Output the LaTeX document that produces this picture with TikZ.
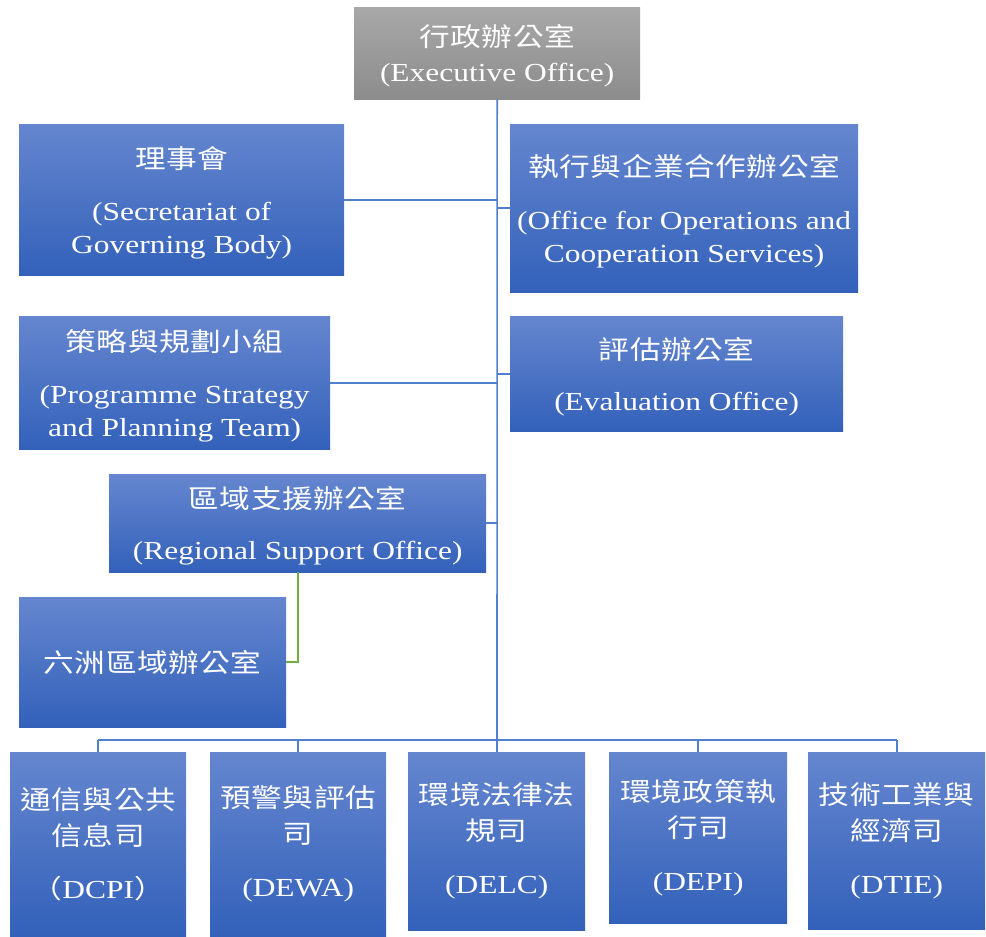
\documentclass[tikz,border=0pt]{standalone}
\usepackage{fontspec}
\setmainfont{Liberation Serif}[FakeStretch=1.21]
\newfontfamily\cjk{Noto Sans CJK TC}[FakeStretch=1.18]
\newcommand{\zh}[1]{{\cjk\addfontfeature{LetterSpace=2}#1}}
\definecolor{boxtop}{HTML}{6586CF}
\definecolor{boxbot}{HTML}{3361BA}
\definecolor{greytop}{HTML}{A8A8A8}
\definecolor{greybot}{HTML}{8C8C8C}
\definecolor{linkblue}{HTML}{5080CB}
\definecolor{linkgreen}{HTML}{70AD47}
\tikzset{
  orgbox/.style={shade, top color=boxtop, bottom color=boxbot, text=white,
    align=center, inner sep=0pt, anchor=north west,
    font=\fontsize{26}{33}\selectfont},
  execbox/.style={orgbox, top color=greytop, bottom color=greybot},
  link/.style={draw=linkblue, line width=1.6pt},
  greenlink/.style={draw=linkgreen, line width=1.6pt}
}
\begin{document}
\begin{tikzpicture}[x=1pt,y=-1pt]
\useasboundingbox (0,0) rectangle (986,937);
% top
\node[execbox, minimum width=286pt, minimum height=92pt] (exec) at (354,7)
  {\zh{行政辦公室}\rule{0pt}{28pt}\\[2pt](Executive Office)};
% left side
\node[orgbox, minimum width=325pt, minimum height=151pt] (sec) at (19,124)
  {\zh{理事會}\rule{0pt}{28pt}\\[19pt](Secretariat of\\Governing Body)};
\node[orgbox, minimum width=311pt, minimum height=133pt] (pst) at (19,316)
  {\zh{策略與規劃小組}\rule{0pt}{28pt}\\[19pt](Programme Strategy\\and Planning Team)};
\node[orgbox, minimum width=377pt, minimum height=98pt] (rso) at (109,474)
  {\zh{區域支援辦公室}\rule{0pt}{28pt}\\[18pt](Regional Support Office)};
\node[orgbox, minimum width=267pt, minimum height=130pt] (six) at (19,597)
  {\zh{六洲區域辦公室}};
% right side
\node[orgbox, minimum width=348pt, minimum height=168pt] (ops) at (510,124)
  {\zh{執行與企業合作辦公室}\rule{0pt}{28pt}\\[20pt](Office for Operations and\\Cooperation Services)};
\node[orgbox, minimum width=333pt, minimum height=115pt] (eval) at (510,316)
  {\zh{評估辦公室}\rule{0pt}{28pt}\\[18pt](Evaluation Office)};
% bottom divisions
\node[orgbox, minimum width=176pt, minimum height=184pt] (dcpi) at (10,752)
  {\zh{通信與公共}\\[3pt]\zh{信息司}\\[20pt]\zh{（}DCPI\zh{）}};
\node[orgbox, minimum width=176pt, minimum height=184pt] (dewa) at (210,752)
  {\zh{預警與評估}\\[3pt]\zh{司}\\[20pt](DEWA)};
\node[orgbox, minimum width=177pt, minimum height=178pt] (delc) at (408,752)
  {\zh{環境法律法}\\[3pt]\zh{規司}\\[20pt](DELC)};
\node[orgbox, minimum width=178pt, minimum height=171pt] (depi) at (609,752)
  {\zh{環境政策執}\\[3pt]\zh{行司}\\[20pt](DEPI)};
\node[orgbox, minimum width=177pt, minimum height=177pt] (dtie) at (808,752)
  {\zh{技術工業與}\\[3pt]\zh{經濟司}\\[20pt](DTIE)};
% connectors
\coordinate (bus) at (497,740);
\draw[link] (exec.south) -- (bus);
\draw[link] (sec.east) -- (sec.east -| exec.south);
\draw[link] (ops.west) -- (ops.west -| exec.south);
\draw[link] (pst.east) -- (pst.east -| exec.south);
\draw[link] (eval.west) -- (eval.west -| exec.south);
\draw[link] (rso.east) -- (rso.east -| exec.south);
\draw[greenlink] (rso.south) |- (six.east);
\draw[link] (dcpi.north |- bus) -- (dtie.north |- bus);
\foreach \d in {dcpi,dewa,delc,depi,dtie}
  \draw[link] (\d.north |- bus) -- (\d.north);
\end{tikzpicture}
\end{document}
